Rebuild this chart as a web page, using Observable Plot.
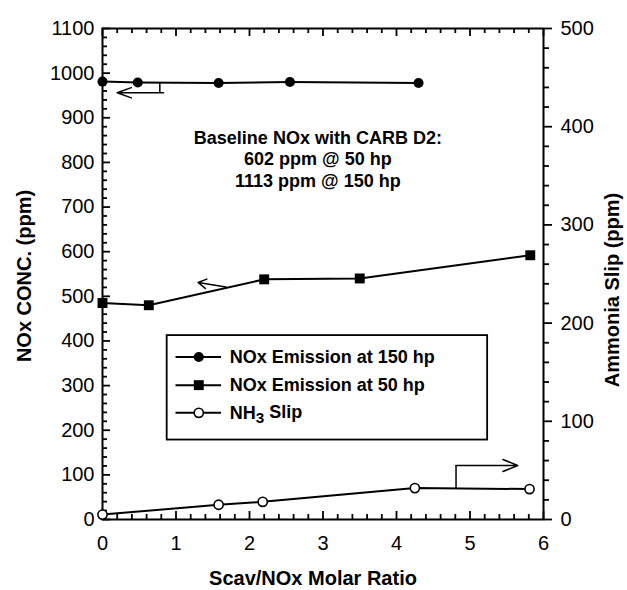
<!DOCTYPE html>
<html>
<head>
<meta charset="utf-8">
<script src="https://cdn.jsdelivr.net/npm/d3@7"></script>
<script src="https://cdn.jsdelivr.net/npm/@observablehq/plot@0.6"></script>
<style>
html, body { margin: 0; padding: 0; background: #fff; }
#chart svg { display: block; font-family: 'Liberation Sans', Arial, Helvetica, sans-serif; }
</style>
</head>
<body>
<div id="chart"></div>
<script>
// ---- data ----
const xNOx150 = [0, 0.48, 1.58, 2.55, 4.3];
const nox150  = [981, 979, 978, 980, 978];
const xNOx50  = [0, 0.63, 2.2, 3.5, 5.82];
const nox50   = [485, 480, 538, 540, 592];
const xNH3    = [0, 1.58, 2.18, 4.25, 5.81];
const nh3Slip = [5, 15, 18, 32, 31];

const seriesNames = ["NOx Emission at 150 hp", "NOx Emission at 50 hp", "NH3 Slip"];
const leftTicks  = [0, 100, 200, 300, 400, 500, 600, 700, 800, 900, 1000, 1100];
const rightTicks = [0, 100, 200, 300, 400, 500];
const xTicks     = [0, 1, 2, 3, 4, 5, 6];
const annotation = ["Baseline NOx with CARB D2:", "602 ppm @ 50 hp", "1113 ppm @ 150 hp"];
const xTitle  = "Scav/NOx Molar Ratio";
const yTitle  = "NOx CONC. (ppm)";
const y2Title = "Ammonia Slip (ppm)";

// ---- layout ----
const W = 627, H = 590;
const mL = 102, mR = 84, mT = 28, mB = 71;
const fw = W - mL - mR, fh = H - mT - mB;
const majorLen = 8, minorLen = 5;

// ---- derived ----
const k = 1100 / 500; // right axis (0-500) onto left axis (0-1100)
const d150 = xNOx150.map((x, i) => ({x, y: nox150[i]}));
const d50  = xNOx50.map((x, i) => ({x, y: nox50[i]}));
const dNH3 = xNH3.map((x, i) => ({x, y: nh3Slip[i] * k}));

const leftMinor  = d3.range(0, 1101, 20).filter(v => v % 100 !== 0);
const rightMaj   = rightTicks.map(v => v * k);
const rightMinor = d3.range(0, 501, 20).filter(v => v % 100 !== 0).map(v => v * k);
const xMinor     = d3.range(0, 31).map(i => i / 5).filter(v => Math.abs(v - Math.round(v)) > 1e-9);

// annotation geometry (data units)
const leftArrows  = [{x1: 0.83, y1: 956, x2: 0.2, y2: 956}];
const leftStem    = [{x: 0.78, y1: 956, y2: 977}];
const midArrow    = [{x1: 1.68, y1: 521, x2: 1.3, y2: 531}];
const rightStem   = [{x: 4.81, y1: 69, y2: 121}];
const rightArrow  = [{x1: 4.81, y1: 121, x2: 5.65, y2: 121}];
const legendBox   = [{x1: 0.88, x2: 5.24, y1: 178, y2: 412}];
const legendY     = [364, 301, 239];
const legendRows  = seriesNames.map((name, i) => ({name, i, y: legendY[i]}));

const fmt = d => String(d);
const sw = 1.8;

const chart = Plot.plot({
  width: W, height: H,
  marginLeft: mL, marginRight: mR, marginTop: mT, marginBottom: mB,
  x: {domain: [0, 6]},
  y: {domain: [0, 1100]},
  marks: [
    // tick labels
    Plot.axisX(xTicks, {anchor: "bottom", tickSize: 0, tickPadding: 16, fontSize: 20, fill: "black", label: null, tickFormat: fmt}),
    Plot.axisY(leftTicks, {anchor: "left", tickSize: 0, tickPadding: 8, fontSize: 20, fill: "black", label: null, tickFormat: fmt}),
    // right axis: outward ticks with labels
    Plot.axisY(rightMaj, {anchor: "right", tickSize: majorLen, tickPadding: 9, fontSize: 20, fill: "black", stroke: "black",
      strokeWidth: sw, label: null, tickFormat: d => String(Math.round(d / k))}),
    Plot.axisY(rightMinor, {anchor: "right", tickSize: minorLen, stroke: "black", strokeWidth: sw, label: null, tickFormat: () => ""}),

    // inward ticks on left, bottom and top
    Plot.tickY(leftTicks, {y: d => d, insetRight: fw - majorLen, stroke: "black", strokeWidth: sw}),
    Plot.tickY(leftMinor, {y: d => d, insetRight: fw - minorLen, stroke: "black", strokeWidth: sw}),
    Plot.tickX(xTicks, {x: d => d, insetTop: fh - majorLen, stroke: "black", strokeWidth: sw}),
    Plot.tickX(xMinor, {x: d => d, insetTop: fh - minorLen, stroke: "black", strokeWidth: sw}),
    Plot.tickX(xTicks, {x: d => d, insetBottom: fh - majorLen, stroke: "black", strokeWidth: sw}),
    Plot.tickX(xMinor, {x: d => d, insetBottom: fh - minorLen, stroke: "black", strokeWidth: sw}),
    Plot.frame({stroke: "black", strokeWidth: 2}),

    // axis titles
    Plot.text([xTitle], {text: d => d, frameAnchor: "bottom", lineAnchor: "middle", textAnchor: "middle", dy: 59, dx: -10, fontSize: 20, fontWeight: "bold", fill: "black"}),
    Plot.text([yTitle], {text: d => d, frameAnchor: "left", textAnchor: "middle", lineAnchor: "middle", dx: -78, dy: 2, rotate: -90, fontSize: 20, fontWeight: "bold", fill: "black"}),
    Plot.text([y2Title], {text: d => d, frameAnchor: "right", textAnchor: "middle", lineAnchor: "middle", dx: 69, dy: 16, rotate: -90, fontSize: 20, fontWeight: "bold", fill: "black"}),

    // series
    Plot.line(d150, {x: "x", y: "y", stroke: "black", strokeWidth: 2}),
    Plot.dot(d150, {x: "x", y: "y", r: 5, fill: "black", stroke: "none"}),
    Plot.line(d50, {x: "x", y: "y", stroke: "black", strokeWidth: 2}),
    Plot.dot(d50, {x: "x", y: "y", r: 5.6, symbol: "square", fill: "black", stroke: "none"}),
    Plot.line(dNH3, {x: "x", y: "y", stroke: "black", strokeWidth: 2}),
    Plot.dot(dNH3, {x: "x", y: "y", r: 4.6, fill: "white", stroke: "black", strokeWidth: 1.6}),

    // arrows
    Plot.arrow(leftArrows, {x1: "x1", y1: "y1", x2: "x2", y2: "y2", stroke: "black", strokeWidth: 1.5, headLength: 15, headAngle: 40}),
    Plot.ruleX(leftStem, {x: "x", y1: "y1", y2: "y2", stroke: "black", strokeWidth: 1.5}),
    Plot.arrow(midArrow, {x1: "x1", y1: "y1", x2: "x2", y2: "y2", stroke: "black", strokeWidth: 1.5, headLength: 11, headAngle: 60}),
    Plot.ruleX(rightStem, {x: "x", y1: "y1", y2: "y2", stroke: "black", strokeWidth: 1.5}),
    Plot.arrow(rightArrow, {x1: "x1", y1: "y1", x2: "x2", y2: "y2", stroke: "black", strokeWidth: 1.5, headLength: 16, headAngle: 44}),

    // annotation
    Plot.text([annotation.join("\n")], {text: d => d, x: () => 2.93, y: () => 809, fontSize: 18, fontWeight: "bold", lineHeight: 1.2, textAnchor: "middle", fill: "black"}),

    // legend
    Plot.rect(legendBox, {x1: "x1", x2: "x2", y1: "y1", y2: "y2", fill: "white", stroke: "black", strokeWidth: 1.8}),
    Plot.ruleY(legendRows, {y: "y", x1: () => 1.0, x2: () => 1.62, stroke: "black", strokeWidth: 2}),
    Plot.dot(legendRows.filter(d => d.i === 0), {x: () => 1.31, y: "y", r: 5, fill: "black"}),
    Plot.dot(legendRows.filter(d => d.i === 1), {x: () => 1.31, y: "y", r: 5.6, symbol: "square", fill: "black"}),
    Plot.dot(legendRows.filter(d => d.i === 2), {x: () => 1.31, y: "y", r: 4.6, fill: "white", stroke: "black", strokeWidth: 1.6}),
    Plot.text(legendRows, {x: () => 1.73, y: "y", text: "name", textAnchor: "start", fontSize: 18, fontWeight: "bold", fill: "black"})
  ]
});

// render the "3" of NH3 as a subscript
d3.select(chart).selectAll("text").each(function () {
  if (this.textContent === "NH3 Slip") {
    const t = d3.select(this);
    t.text(null);
    t.append("tspan").text("NH");
    t.append("tspan").attr("dy", "0.28em").attr("font-size", "0.85em").text("3");
    t.append("tspan").attr("dy", "-0.28em").text(" Slip");
  }
});

document.getElementById("chart").appendChild(chart);
</script>
</body>
</html>
